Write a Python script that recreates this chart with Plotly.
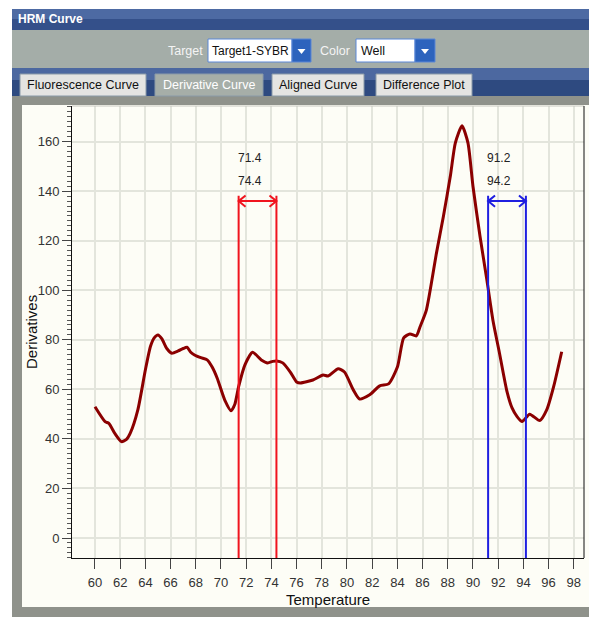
import plotly.graph_objects as go

# ---------------- data ----------------
temps = [60.0, 60.8, 61.1, 61.6, 62.1, 62.5, 62.8, 63.4, 64.0, 64.4, 64.7, 65.0, 65.3,
         65.7, 66.1, 66.6, 67.0, 67.3, 67.6, 67.9, 68.4, 68.9, 69.3, 69.7, 70.3, 70.8,
         71.1, 71.4, 71.9, 72.5, 73.2, 73.7, 74.1, 74.4, 74.9, 75.5, 76.0, 76.3, 77.3,
         78.1, 78.5, 79.3, 79.8, 80.5, 81.0, 81.8, 82.6, 83.3, 84.0, 84.5, 85.0, 85.5,
         85.8, 86.3, 87.1, 87.65, 88.2, 88.6, 89.13, 89.6, 90.0, 90.56, 91.1, 91.6,
         92.1, 92.7, 93.1, 93.5, 93.9, 94.5, 95.3, 95.85, 96.4, 97.04]
derivs = [53.0, 47.0, 46.3, 42.0, 38.9, 39.8, 42.3, 51.7, 67.9, 77.3, 80.8, 82.0, 80.5,
          76.5, 74.6, 75.5, 76.5, 77.0, 75.0, 73.9, 72.8, 71.9, 69.0, 64.5, 55.7, 51.4,
          54.0, 61.1, 69.9, 75.0, 71.9, 70.7, 71.3, 71.5, 70.7, 67.0, 63.0, 62.6, 63.8,
          65.8, 65.4, 68.3, 67.0, 59.8, 56.1, 57.8, 61.4, 62.2, 69.0, 80.8, 82.4, 81.6,
          85.3, 92.0, 115.0, 129.8, 146.0, 159.5, 166.4, 159.5, 141.9, 121.7, 104.2, 87.4,
          74.7, 59.1, 52.5, 49.0, 47.0, 50.0, 47.4, 51.7, 61.1, 75.2]

red_range = [71.4, 74.4]
blue_range = [91.2, 94.2]
arrow_level = 136.0
label_levels = [153.5, 144.0]

x_ticks = list(range(60, 99, 2))
y_ticks = list(range(0, 161, 20))
x_range = [58.175, 98.81]
y_range = [-8.07, 174.4]

target_name = "Target1-SYBR"
color_name = "Well"
tab_names = ["Fluorescence Curve", "Derivative Curve", "Aligned Curve", "Difference Plot"]
active_tab = "Derivative Curve"

# ---------------- layout helpers ----------------
W, H = 589, 619
L, R, T, B = 72, 584, 106, 558


def px(x):
    return (x - L) / (R - L)


def py(y):
    return (B - y) / (B - T)


SANS = "Liberation Sans, Arial, sans-serif"

fig = go.Figure()

fig.add_trace(go.Scatter(x=temps, y=derivs, mode="lines",
                         line=dict(color="#8b0000", width=3, shape="spline", smoothing=0.6),
                         hoverinfo="x+y", showlegend=False))


def add_marker(rng, color):
    lo, hi = rng
    dx, dy = 0.55, 2.3
    for xv in (lo, hi):
        fig.add_trace(go.Scatter(x=[xv, xv], y=[y_range[0], arrow_level + 2.2], mode="lines",
                                 line=dict(color=color, width=2), showlegend=False,
                                 hoverinfo="skip"))
    fig.add_trace(go.Scatter(
        x=[lo, hi, None, lo + dx, lo, lo + dx, None, hi - dx, hi, hi - dx],
        y=[arrow_level, arrow_level, None, arrow_level + dy, arrow_level, arrow_level - dy,
           None, arrow_level + dy, arrow_level, arrow_level - dy],
        mode="lines", line=dict(color=color, width=2), showlegend=False, hoverinfo="skip"))
    for val, lev in zip(rng, label_levels):
        fig.add_annotation(x=lo, y=lev, xref="x", yref="y", text=f"{val}", showarrow=False,
                           xanchor="left", yanchor="middle", xshift=-3,
                           font=dict(family=SANS, size=12, color="#222"))


add_marker(red_range, "#f0141e")
add_marker(blue_range, "#1f1fe0")

shapes = []


def rect(x0, y0, x1, y1, fill, line=None, lw=0, layer="below"):
    shapes.append(dict(type="rect", xref="paper", yref="paper",
                       x0=px(x0), x1=px(x1), y0=py(y1), y1=py(y0),
                       fillcolor=fill, line=dict(color=line or fill, width=lw), layer=layer))


def text(x, y, s, size=13, color="#111", xanchor="center", angle=0, family=SANS):
    fig.add_annotation(x=px(x), y=py(y), xref="paper", yref="paper", text=s, showarrow=False,
                       xanchor=xanchor, yanchor="middle", textangle=angle,
                       font=dict(family=family, size=size, color=color))


# window chrome
rect(12, 9, 589, 617, "#a4ada8")             # gray window
rect(12, 9, 589, 19, "#4d6aa3")              # title bar top
rect(12, 19, 589, 30, "#34508a")             # title bar bottom
rect(12, 68, 589, 80, "#4c68a0")             # tab strip top
rect(12, 80, 589, 96, "#2e4a80")             # tab strip bottom
rect(12, 96, 589, 617, "#8f928b")            # plot panel border
rect(22, 105, 589, 607, "#fdfdf6")           # cream plot panel

# dropdowns
rect(208, 39, 292, 62, "#ffffff", "#5b87d6", 1)
rect(292, 39, 311, 62, "#2d63bd", "#5b87d6", 1)
rect(356, 39, 415, 62, "#ffffff", "#5b87d6", 1)
rect(415, 39, 435, 62, "#2d63bd", "#5b87d6", 1)
for cx in (301.5, 425):
    shapes.append(dict(type="path", xref="paper", yref="paper",
                       path=f"M {px(cx-4)},{py(49)} L {px(cx+4)},{py(49)} L {px(cx)},{py(54)} Z",
                       fillcolor="#ffffff", line=dict(color="#ffffff", width=0), layer="below"))

# tabs
tab_x = [(20, 146), (155, 263), (272, 364), (376, 472)]
for name, (a, b) in zip(tab_names, tab_x):
    active = name == active_tab
    rect(a, 74, b, 96, "#a6aea8" if active else "#e4e4e2", "#8a9aa8", 1)
    text((a + b) / 2, 85.5, name, size=12.5, color="#ffffff" if active else "#111111")

# plot frame: top light, right dark
shapes.append(dict(type="line", xref="paper", yref="paper", x0=0, x1=1, y0=1, y1=1,
                   line=dict(color="#c8c8c0", width=1), layer="above"))
shapes.append(dict(type="line", xref="paper", yref="paper", x0=1, x1=1, y0=0, y1=1,
                   line=dict(color="#111111", width=1), layer="above"))

fig.update_layout(shapes=shapes)

# chrome texts
text(16, 19, "<b>HRM Curve</b>", size=12, color="#ffffff", xanchor="left")
text(205, 50.5, "Target", size=12.5, color="#f4f4f4", xanchor="right")
text(210, 50.5, target_name, size=12, color="#111", xanchor="left")
text(352, 50.5, "Color", size=12.5, color="#f4f4f4", xanchor="right")
text(359, 50.5, color_name, size=12.5, color="#111", xanchor="left")

# axis titles
text(328, 599, "Temperature", size=15, color="#111")
text(31, 332, "Derivatives", size=15, color="#111", angle=-90)

fig.update_xaxes(range=x_range, tickvals=x_ticks, ticks="outside", ticklen=10, tickwidth=1,
                 tickcolor="#444", showline=True, linecolor="#111", linewidth=1,
                 showgrid=True, gridcolor="#e3e5dc", gridwidth=1.5, zeroline=False,
                 ticklabelstandoff=2,
                 tickfont=dict(family=SANS, size=13, color="#333"), fixedrange=True)
fig.update_yaxes(range=y_range, tickvals=y_ticks, ticks="outside", ticklen=9, tickwidth=1,
                 tickcolor="#444", showline=True, linecolor="#111", linewidth=1,
                 showgrid=True, gridcolor="#e3e5dc", gridwidth=1.5, zeroline=False,
                 minor=dict(dtick=2, tick0=0, ticks="outside", ticklen=4, tickcolor="#555",
                            showgrid=False),
                 tickfont=dict(family=SANS, size=13, color="#333"), fixedrange=True)

fig.update_layout(width=W, height=H, margin=dict(l=L, r=W - R, t=T, b=H - B),
                  paper_bgcolor="#ffffff", plot_bgcolor="#fdfdf6", showlegend=False)

fig.write_html("out.html", config={"displayModeBar": False})
